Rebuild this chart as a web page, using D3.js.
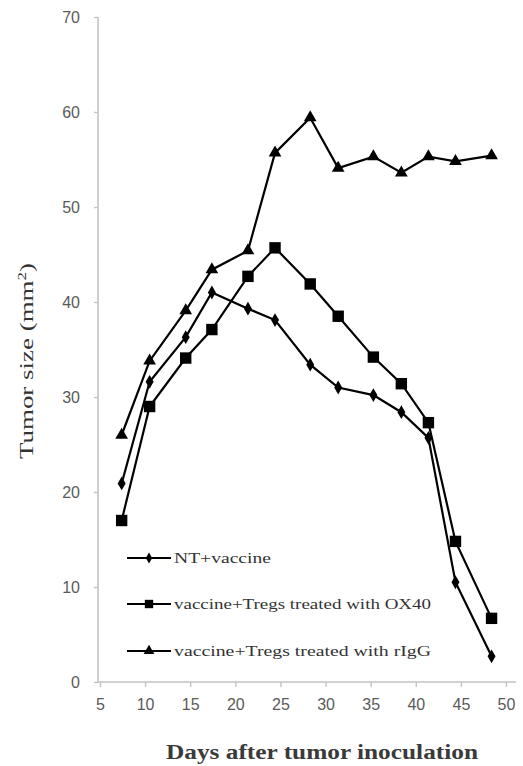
<!DOCTYPE html>
<html>
<head>
<meta charset="utf-8">
<script src="https://cdn.jsdelivr.net/npm/d3@7"></script>
<style>
  body { margin: 0; background: #fff; }
</style>
</head>
<body>
<svg id="chart" width="523" height="766"></svg>
<script>
//////////////////////////////////////////////////////////////////////
// data
//////////////////////////////////////////////////////////////////////
var days = [7.4, 10.5, 14.5, 17.4, 21.4, 24.4, 28.3, 31.4, 35.3, 38.4, 41.4, 44.4, 48.4];

var ntVaccine = [20.9, 31.6, 36.3, 41.0, 39.3, 38.1, 33.4, 31.0, 30.2, 28.4, 25.7, 10.5, 2.7];
var ox40      = [17.0, 29.0, 34.1, 37.1, 42.7, 45.7, 41.9, 38.5, 34.2, 31.4, 27.3, 14.8, 6.7];
var rIgG      = [26.0, 33.8, 39.1, 43.4, 45.4, 55.7, 59.4, 54.1, 55.3, 53.6, 55.3, 54.8, 55.4];

var seriesNames = ["NT+vaccine", "vaccine+Tregs treated with OX40", "vaccine+Tregs treated  with rIgG"];
var xTicks = [5, 10, 15, 20, 25, 30, 35, 40, 45, 50];
var yTicks = [0, 10, 20, 30, 40, 50, 60, 70];

//////////////////////////////////////////////////////////////////////
// setup
//////////////////////////////////////////////////////////////////////
var svg = d3.select("#chart");

var x = d3.scaleLinear().domain([5, 50]).range([100, 506]);
var y = d3.scaleLinear().domain([0, 70]).range([682, 17]);

var axisColor = "#c3c3c3";
var labelColor = "#5a5a5a";

// y axis
var yAxis = svg.append("g")
  .attr("transform", "translate(98,0)")
  .call(d3.axisLeft(y).tickValues(yTicks).tickSize(4).tickPadding(14));
yAxis.select(".domain").attr("stroke", axisColor).attr("stroke-width", 1.6)
  .attr("d", "M0," + y(70) + "V" + y(0));
yAxis.selectAll(".tick line").attr("stroke", axisColor).attr("stroke-width", 1.4);
yAxis.selectAll(".tick text")
  .attr("fill", labelColor)
  .style("font-family", "Liberation Sans, Arial, sans-serif")
  .style("font-size", "16px");

// x axis
var xAxis = svg.append("g")
  .attr("transform", "translate(0,682)")
  .call(d3.axisBottom(x).tickValues(xTicks).tickSize(5).tickPadding(12));
xAxis.select(".domain").attr("stroke", axisColor).attr("stroke-width", 1.6)
  .attr("d", "M98,0H516");
xAxis.selectAll(".tick line").attr("stroke", axisColor).attr("stroke-width", 1.4);
xAxis.selectAll(".tick text")
  .attr("fill", labelColor)
  .style("font-family", "Liberation Sans, Arial, sans-serif")
  .style("font-size", "16px");

// titles
svg.append("text")
  .attr("transform", "translate(33,361) rotate(-90)")
  .attr("text-anchor", "middle")
  .attr("fill", "#333")
  .attr("textLength", 196)
  .attr("lengthAdjust", "spacingAndGlyphs")
  .style("font-family", "Liberation Serif, Times New Roman, serif")
  .style("font-size", "19px")
  .html("Tumor size (mm<tspan dy='-7' font-size='12px'>2</tspan><tspan dy='7'>)</tspan>");

svg.append("text")
  .attr("x", 322)
  .attr("y", 759)
  .attr("text-anchor", "middle")
  .attr("fill", "#3a3a3a")
  .attr("textLength", 312)
  .attr("lengthAdjust", "spacingAndGlyphs")
  .style("font-family", "Liberation Serif, Times New Roman, serif")
  .style("font-size", "20px")
  .style("font-weight", "bold")
  .text("Days after tumor inoculation");

//////////////////////////////////////////////////////////////////////
// series
//////////////////////////////////////////////////////////////////////
var allSeries = [
  { name: seriesNames[0], values: ntVaccine, shape: d3.symbolDiamond, size: 55, legendSize: 35 },
  { name: seriesNames[1], values: ox40, shape: d3.symbolSquare, size: 130, legendSize: 70 },
  { name: seriesNames[2], values: rIgG, shape: d3.symbolTriangle, size: 70, legendSize: 50 }
];

var line = d3.line()
  .x(function(d) { return x(d.day); })
  .y(function(d) { return y(d.value); });

allSeries.forEach(function(s)
  {
  var pts = days.map(function(d, i) { return { day: d, value: s.values[i] }; });

  svg.append("path")
    .datum(pts)
    .attr("d", line)
    .attr("fill", "none")
    .attr("stroke", "#000")
    .attr("stroke-width", 2.2);

  svg.selectAll(null)
    .data(pts)
    .enter()
    .append("path")
    .attr("transform", function(d) { return "translate(" + x(d.day) + "," + y(d.value) + ")"; })
    .attr("d", d3.symbol().type(s.shape).size(s.size))
    .attr("fill", "#000");
  });

//////////////////////////////////////////////////////////////////////
// legend
//////////////////////////////////////////////////////////////////////
var legendRows = [558, 604, 651];
var legendWidths = [97, 257, 257];

allSeries.forEach(function(s, i)
  {
  var g = svg.append("g").attr("transform", "translate(0," + legendRows[i] + ")");
  g.append("line")
    .attr("x1", 127).attr("x2", 171)
    .attr("stroke", "#000").attr("stroke-width", 2.2);
  g.append("path")
    .attr("transform", "translate(149,0)")
    .attr("d", d3.symbol().type(s.shape).size(s.legendSize))
    .attr("fill", "#000");
  g.append("text")
    .attr("x", 174)
    .attr("y", 5)
    .attr("fill", "#333")
    .attr("textLength", legendWidths[i])
    .attr("lengthAdjust", "spacingAndGlyphs")
    .style("font-family", "Liberation Serif, Times New Roman, serif")
    .style("font-size", "15px")
    .text(s.name);
  });
</script>
</body>
</html>
